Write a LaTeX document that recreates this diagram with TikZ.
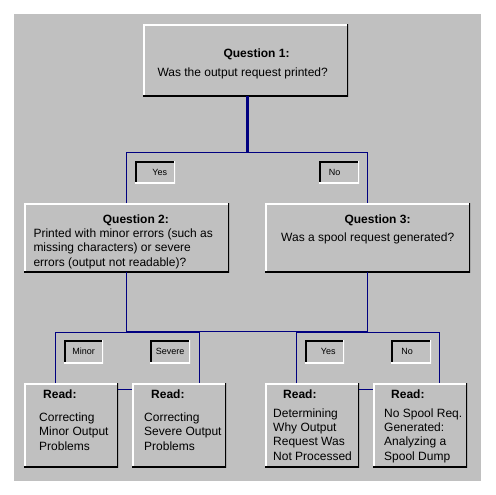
\documentclass[tikz,border=0pt]{standalone}
\usepackage{fontspec}
\setmainfont{Liberation Sans}
\definecolor{wingray}{HTML}{C0C0C0}
\definecolor{navyline}{HTML}{000080}
\newcommand{\mylines}[1]{\begin{tabular}[t]{@{}l@{}}#1\end{tabular}}
\tikzset{
  raised/.style={fill=wingray, draw=none, inner sep=0pt, anchor=north west,
    path picture={
      \draw[white,line width=3pt] (path picture bounding box.south west) -- (path picture bounding box.north west) -- (path picture bounding box.north east);
      \draw[black,line width=2pt] (path picture bounding box.north east) -- (path picture bounding box.south east) -- (path picture bounding box.south west);
    }},
  sunken/.style={fill=wingray, draw=none, inner sep=0pt, anchor=north west,
    font=\fontsize{9}{10}\selectfont,
    path picture={
      \draw[black,line width=3pt] (path picture bounding box.south west) -- (path picture bounding box.north west) -- (path picture bounding box.north east);
      \draw[white,line width=3pt] (path picture bounding box.north east) -- (path picture bounding box.south east) -- (path picture bounding box.south west);
    }},
  txt/.style={anchor=base west, inner sep=0pt, font=\fontsize{12}{14.4}\selectfont},
  ttl/.style={anchor=base west, inner sep=0pt, font=\fontsize{12}{14.4}\selectfont\bfseries},
  conn/.style={navyline, line width=1pt},
  trunk/.style={navyline, line width=3pt},
}
\begin{document}
\begin{tikzpicture}[x=1pt,y=-1pt]
\useasboundingbox (0,0) rectangle (495,495);
\fill[white] (0,0) rectangle (495,495);
\fill[wingray] (14,14) rectangle (481,481);

% question boxes
\node[raised, minimum width=205pt, minimum height=72pt] (q1) at (143,24) {};
\node[raised, minimum width=205pt, minimum height=69pt] (q2) at (24,203) {};
\node[raised, minimum width=205pt, minimum height=69pt] (q3) at (265,203) {};

\node[ttl] (q1t) at (223.3,57.3) {Question 1:};
\node[txt] (q1b) at (157.3,76) {Was the output request printed?};
\node[ttl] (q2t) at (102.7,223.3) {Question 2:};
\node[txt] (q2b) at (33.3,237.3) {\mylines{Printed with minor errors (such as\\missing characters) or severe\\errors (output not readable)?}};
\node[ttl] (q3t) at (344.3,223.3) {Question 3:};
\node[txt] (q3b) at (281,241) {Was a spool request generated?};

% read boxes
\node[raised, minimum width=94pt, minimum height=84pt] (r1) at (24,383) {};
\node[raised, minimum width=94pt, minimum height=84pt] (r2) at (132,383) {};
\node[raised, minimum width=94pt, minimum height=84pt] (r3) at (265,383) {};
\node[raised, minimum width=94pt, minimum height=84pt] (r4) at (373,383) {};

\node[ttl] (r1t) at (43,398.3) {Read:};
\node[ttl] (r2t) at (151,398.3) {Read:};
\node[ttl] (r3t) at (283,398.3) {Read:};
\node[ttl] (r4t) at (391,398.3) {Read:};
\node[txt] (r1b) at (39,421.3) {\mylines{Correcting\\Minor Output\\Problems}};
\node[txt] (r2b) at (144,421.3) {\mylines{Correcting\\Severe Output\\Problems}};
\node[txt] (r3b) at (273,417) {\mylines{Determining\\Why Output\\Request Was\\Not Processed}};
\node[txt] (r4b) at (384,417) {\mylines{No Spool Req.\\Generated:\\Analyzing a\\Spool Dump}};

% connectors
\coordinate (b1) at (247,152);
\coordinate (m1) at (127,331);
\coordinate (c1) at (55,332);
\coordinate (c2) at (199,332);
\coordinate (c3) at (296,332);
\coordinate (c4) at (439,332);

\draw[trunk] (b1 |- q1.south) -- (b1);
\draw[conn] (q2.north) -- (q2.north |- b1) -- (q3.north |- b1) -- (q3.north);
\draw[conn] (q2.south) -- (q2.south |- m1) -- (q3.south |- m1) -- (q3.south);
\draw[conn] (c1 |- r1.north) -- (c1) -- (c2) -- (c2 |- r2.north);
\draw[conn] (c3 |- r3.north) -- (c3) -- (c4) -- (c4 |- r4.north);
\draw[conn] ([yshift=-6pt]r1.north east) -- ([yshift=-6pt]r2.north west);
\draw[conn] ([yshift=-6pt]r3.north east) -- ([yshift=-6pt]r4.north west);

% answer labels
\node[sunken, minimum width=40pt, minimum height=22pt] (lyes) at (135,161) {\hspace*{9pt}Yes};
\node[sunken, minimum width=40pt, minimum height=22pt] (lno) at (319,161) {No\hspace*{9pt}};
\node[sunken, minimum width=39pt, minimum height=23pt] (lminor) at (64,340) {Minor};
\node[sunken, minimum width=40pt, minimum height=23pt] (lsevere) at (150,340) {Severe};
\node[sunken, minimum width=39pt, minimum height=23pt] (lyes2) at (305,340) {\hspace*{7pt}Yes};
\node[sunken, minimum width=40pt, minimum height=23pt] (lno2) at (391,340) {No\hspace*{8pt}};
\end{tikzpicture}
\end{document}
